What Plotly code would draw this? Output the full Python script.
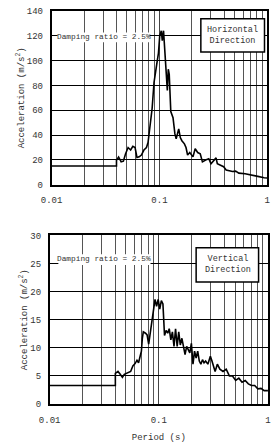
import plotly.graph_objects as go

# ---------------- data ----------------
period_h = [0.01, 0.04, 0.04, 0.04184, 0.04418, 0.04632, 0.04857, 0.05125, 0.05409, 0.05671,
            0.05946, 0.06192, 0.06493, 0.06807, 0.07183, 0.07583, 0.07843, 0.08222, 0.08562,
            0.08915, 0.09283, 0.09538, 0.09799, 0.1007, 0.1041, 0.1063, 0.1092, 0.1114, 0.1137,
            0.1168, 0.1184, 0.1208, 0.1233, 0.1275, 0.1337, 0.1392, 0.1430, 0.1510, 0.1562,
            0.1615, 0.1705, 0.1764, 0.1824, 0.1912, 0.1978, 0.2046, 0.2145, 0.2264, 0.2390,
            0.2504, 0.2680, 0.2868, 0.3006, 0.3173, 0.3350, 0.3441, 0.3632, 0.3937, 0.4157,
            0.4448, 0.4757, 0.5089, 0.5447, 0.6232, 0.7136, 0.8166, 0.9348, 1.0]
accel_h = [15.1, 15.1, 19.8, 22.4, 18.5, 19.0, 25.0, 30.0, 28.0, 31.0,
           30.0, 22.0, 22.5, 24.0, 28.0, 30.0, 34.0, 48.6, 61.6,
           82.5, 95.6, 99.5, 106.0, 120.0, 124.0, 116.0, 124.0, 111.0, 103.0,
           90.0, 76.0, 93.0, 89.0, 59.0, 54.0, 41.0, 37.0, 45.0, 38.0,
           35.5, 33.0, 30.0, 24.0, 26.0, 24.0, 22.5, 29.0, 26.0, 25.0,
           18.5, 20.0, 21.0, 17.0, 19.0, 21.7, 17.0, 16.0, 14.6, 12.0,
           11.5, 10.7, 11.0, 9.4, 8.9, 7.6, 6.8, 5.7, 5.5]

period_v = [0.01, 0.04, 0.04, 0.04227, 0.04430, 0.04642, 0.04831, 0.04995, 0.05234, 0.05521,
            0.05786, 0.06062, 0.06310, 0.06524, 0.06745, 0.06928, 0.07068, 0.07211, 0.07556,
            0.07812, 0.08077, 0.08351, 0.08636, 0.08929, 0.09232, 0.09544, 0.09867, 0.1020,
            0.1055, 0.1091, 0.1128, 0.1166, 0.1206, 0.1246, 0.1289, 0.1332, 0.1378, 0.1424,
            0.1473, 0.1523, 0.1574, 0.1628, 0.1683, 0.1740, 0.1799, 0.1860, 0.1923, 0.1988,
            0.2056, 0.2126, 0.2198, 0.2272, 0.2350, 0.2429, 0.2512, 0.2597, 0.2685, 0.2813,
            0.2968, 0.3069, 0.3172, 0.3280, 0.3437, 0.3626, 0.3876, 0.4143, 0.4430, 0.4736,
            0.5061, 0.5412, 0.5786, 0.6185, 0.6612, 0.7069, 0.7557, 0.8077, 0.8636, 0.9232, 1.0]
accel_v = [3.3, 3.3, 5.44, 5.8, 5.3, 4.75, 5.3, 5.4, 5.6, 5.8,
           6.8, 7.2, 7.8, 7.35, 8.5, 9.4, 11.7, 12.85, 12.6,
           12.3, 10.65, 12.6, 14.9, 16.0, 18.6, 17.4, 18.6, 16.9,
           18.4, 17.8, 12.2, 13.1, 12.6, 13.4, 11.4, 12.85, 10.25, 13.4,
           10.25, 12.85, 10.5, 11.7, 10.5, 8.8, 10.25, 9.7, 9.1, 10.8,
           7.1, 9.4, 8.2, 9.4, 7.65, 7.1, 7.9, 7.35, 7.65, 7.1,
           8.5, 7.65, 6.8, 5.8, 7.1, 6.2, 5.8, 6.2, 5.0, 5.0,
           4.2, 4.6, 3.9, 4.2, 3.6, 3.3, 3.3, 2.7, 2.8, 2.4, 2.4]

x_major_ticks = [0.01, 0.1, 1.0]
x_major_text = ["0.01", "0.1", "1"]
x_minor_ticks = [0.02, 0.03, 0.04, 0.05, 0.06, 0.07, 0.08, 0.09,
                 0.2, 0.3, 0.4, 0.5, 0.6, 0.7, 0.8, 0.9]
y_ticks_h = [0, 20, 40, 60, 80, 100, 120, 140]
y_ticks_v = [0, 5, 10, 15, 20, 25, 30]

damping_label = "Damping ratio = 2.5%"
label_h = "Horizontal<br>Direction"
label_v = "Vertical<br>Direction"
y_title = "Acceleration (m/s<sup>2</sup>)"
x_title = "Period (s)"

# ---------------- figure ----------------
W, H = 276, 444
FONT = "Liberation Mono"
TXT = "#333333"

fig = go.Figure()
fig.add_trace(go.Scatter(x=period_h, y=accel_h, mode="lines",
                         line=dict(color="black", width=1.6), xaxis="x", yaxis="y",
                         showlegend=False, hoverinfo="skip"))
fig.add_trace(go.Scatter(x=period_v, y=accel_v, mode="lines",
                         line=dict(color="black", width=1.6), xaxis="x2", yaxis="y2",
                         showlegend=False, hoverinfo="skip"))

def xax(domain, title=None):
    d = dict(type="log", range=[-2, 0], domain=domain,
             tickmode="array", tickvals=x_major_ticks, ticktext=x_major_text, ticks="",
             showgrid=True, gridcolor="#444444", gridwidth=1.4,
             minor=dict(tickmode="array", tickvals=x_minor_ticks, showgrid=True,
                        gridcolor="#555555", gridwidth=1.4, ticks=""),
             showline=True, linecolor="black", linewidth=1.5, mirror=True,
             zeroline=False, tickfont=dict(family=FONT, size=9, color=TXT),
             ticklabelstandoff=6, fixedrange=True)
    if title:
        d["title"] = dict(text=title, font=dict(family=FONT, size=9, color=TXT), standoff=9)
    return d

def yax(domain, ticks, rng, anchor):
    return dict(range=rng, domain=domain, tickvals=ticks, ticks="",
                showgrid=True, gridcolor="black", gridwidth=1,
                showline=True, linecolor="black", linewidth=1.5, mirror=True,
                zeroline=False, tickfont=dict(family=FONT, size=9, color=TXT),
                ticklabelstandoff=5, anchor=anchor, fixedrange=True,
                title=dict(text=y_title, font=dict(family=FONT, size=9, color=TXT), standoff=1))

fig.update_layout(
    width=W, height=H, margin=dict(l=0, r=0, t=0, b=0),
    paper_bgcolor="white", plot_bgcolor="white",
    xaxis=xax([42.7 / W, 270 / W]) | dict(anchor="y"),
    yaxis=yax([(H - 185) / H, (H - 7) / H], y_ticks_h, [0, 140], "x"),
    xaxis2=xax([40.7 / W, 270.7 / W], x_title) | dict(anchor="y2"),
    yaxis2=yax([(H - 409.3) / H, (H - 236.7) / H], y_ticks_v, [0, 30], "x2"),
)

shapes = []
annos = []
for xr, yr, dbox, lbox, lab, dtxt, ltxt in [
    ("x domain", "y domain", (0.028, 0.454, 0.820, 0.876), (0.692, 0.987, 0.764, 0.955), label_h,
     (0.241, 0.848), (0.837, 0.858)),
    ("x2 domain", "y2 domain", (0.040, 0.462, 0.824, 0.888), (0.671, 0.957, 0.724, 0.927), label_v,
     (0.251, 0.857), (0.819, 0.826)),
]:
    shapes.append(dict(type="rect", xref=xr, yref=yr, x0=dbox[0], x1=dbox[1], y0=dbox[2], y1=dbox[3],
                       fillcolor="white", line=dict(width=0), layer="above"))
    shapes.append(dict(type="rect", xref=xr, yref=yr, x0=lbox[0], x1=lbox[1], y0=lbox[2], y1=lbox[3],
                       fillcolor="white", line=dict(color="black", width=1.5), layer="above"))
    annos.append(dict(xref=xr, yref=yr, x=dtxt[0], y=dtxt[1], text=damping_label, showarrow=False,
                      font=dict(family=FONT, size=7.8, color=TXT), xanchor="center", yanchor="middle"))
    annos.append(dict(xref=xr, yref=yr, x=ltxt[0], y=ltxt[1], text=lab, showarrow=False,
                      font=dict(family=FONT, size=8.5, color=TXT), xanchor="center", yanchor="middle"))

fig.update_layout(shapes=shapes, annotations=annos)
fig.write_html("out.html")
